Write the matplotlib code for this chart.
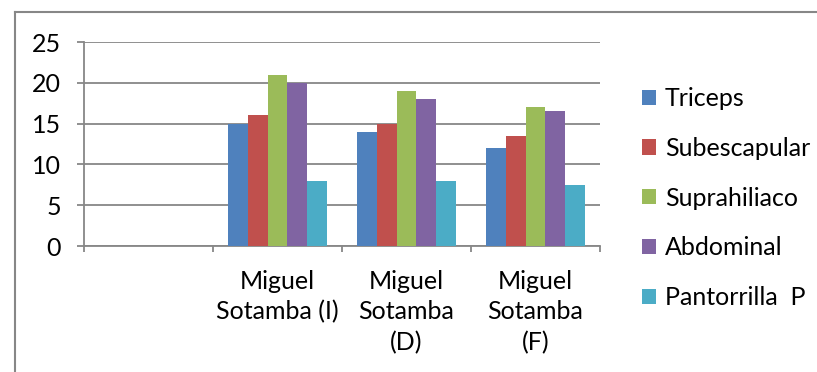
import matplotlib
matplotlib.use("Agg")
import matplotlib.pyplot as plt
from matplotlib.lines import Line2D
import numpy as np

categories = ["", "Miguel\nSotamba (I)", "Miguel\nSotamba\n(D)", "Miguel\nSotamba\n(F)"]
series_names = ["Triceps", "Subescapular", "Suprahiliaco", "Abdominal", "Pantorrilla  P"]
triceps = [0, 15, 14, 12]
subescapular = [0, 16, 15, 13.5]
suprahiliaco = [0, 21, 19, 17]
abdominal = [0, 20, 18, 16.5]
pantorrilla = [0, 8, 8, 7.5]
yticks = [0, 5, 10, 15, 20, 25]
colors = ["#4F81BD", "#C0504D", "#9BBB59", "#8064A2", "#4BACC6"]

plt.rcParams['font.family'] = ['Lato', 'DejaVu Sans']
FS = 18

fig = plt.figure(figsize=(8.17, 3.72), dpi=100)
ax = fig.add_axes([84/817, 1-246/372, (600-84)/817, (246-42)/372])

data = [triceps, subescapular, suprahiliaco, abdominal, pantorrilla]
x = np.arange(len(categories))
w = 1/6.5
for i, (vals, name, c) in enumerate(zip(data, series_names, colors)):
    ax.bar(x + (i-2)*w, vals, width=w, color=c, label=name, zorder=3)

ax.set_xlim(-0.5, len(categories)-0.5)
ax.set_ylim(0, 25)
ax.set_yticks(yticks)
ax.yaxis.grid(True, color="#878787", linewidth=1.3, zorder=0)
ax.set_axisbelow(True)
for s in ["top", "right"]:
    ax.spines[s].set_visible(False)
ax.spines["left"].set_color("#878787")
ax.spines["left"].set_linewidth(1.3)
ax.spines["bottom"].set_color("#878787")
ax.spines["bottom"].set_linewidth(1.3)
ax.tick_params(axis="y", length=5, width=1.3, color="#878787", labelsize=FS, pad=11.5)
ax.set_xticks(x)
ax.set_xticklabels(categories, fontsize=FS, linespacing=1.4)
ax.tick_params(axis="x", which="major", length=0, pad=17)
ax.set_xticks(np.arange(len(categories)+1) - 0.5, minor=True)
ax.tick_params(axis="x", which="minor", length=4.5, width=1.3, color="#878787")
for lbl in ax.get_xticklabels():
    lbl.set_verticalalignment("top")
    lbl.set_horizontalalignment("center")

leg = fig.legend(loc="upper left", bbox_to_anchor=(642/817, 1-87/372), frameon=False,
                 fontsize=FS, handlelength=0.56, handleheight=0.56, handletextpad=0.35,
                 labelspacing=1.07, borderaxespad=0, borderpad=0)

# chart border
fig.add_artist(Line2D([15/817, 15/817], [0, 1-12/372], color="#878787", linewidth=1.5,
                      transform=fig.transFigure))
fig.add_artist(Line2D([15/817, 1], [1-12/372, 1-12/372], color="#878787", linewidth=1.5,
                      transform=fig.transFigure))

fig.savefig("out.png", dpi=100)
